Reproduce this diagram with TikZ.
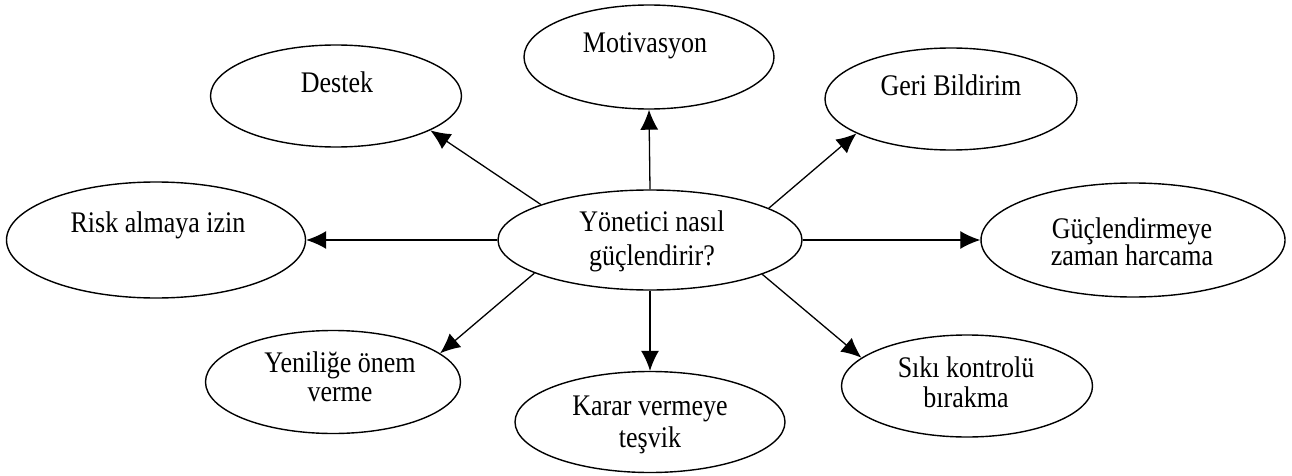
\documentclass[tikz,border=0pt]{standalone}
\usepackage{fontspec}
\usepackage{graphicx}
\setmainfont{Liberation Serif}
\usetikzlibrary{shapes.geometric,arrows.meta}
\newcommand\tallt[1]{\scalebox{1}[1.15]{#1}}
\tikzset{
  ell/.style={draw=black, line width=1.4pt, ellipse, inner sep=0pt, fill=white},
  txt/.style={anchor=base, inner sep=0pt, font=\fontsize{26}{33}\selectfont},
  arr/.style={line width=1.3pt, -{Latex[length=20pt,width=18pt]}},
}
\begin{document}
\begin{tikzpicture}[x=1pt,y=-1pt]
\useasboundingbox (0,0) rectangle (1292,476);
% ellipses
\node[ell, minimum width=304pt, minimum height=100pt] (c)   at (650,240) {};
\node[ell, minimum width=250pt, minimum height=104pt] (mot) at (649,57) {};
\node[ell, minimum width=251pt, minimum height=102pt] (des) at (336,96) {};
\node[ell, minimum width=252pt, minimum height=102pt] (ger) at (951,99) {};
\node[ell, minimum width=299pt, minimum height=116pt] (rsk) at (156,240) {};
\node[ell, minimum width=304pt, minimum height=114pt] (guc) at (1133,240) {};
\node[ell, minimum width=255pt, minimum height=103pt] (yen) at (333,382) {};
\node[ell, minimum width=270pt, minimum height=101pt] (kar) at (650,422) {};
\node[ell, minimum width=251pt, minimum height=102pt] (sik) at (967,386) {};
% texts
\node[txt] (mot-t)  at (645,53)  {\tallt{Motivasyon}};
\node[txt] (des-t)  at (337,93)  {\tallt{Destek}};
\node[txt] (ger-t)  at (951,96)  {\tallt{Geri Bildirim}};
\node[txt] (rsk-t)  at (158,232) {\tallt{Risk almaya izin}};
\node[txt] (c-t1)   at (652,231) {\tallt{Yönetici nasıl}};
\node[txt] (c-t2)   at (652,265) {\tallt{güçlendirir?}};
\node[txt] (guc-t1) at (1132,238) {\tallt{Güçlendirmeye}};
\node[txt] (guc-t2) at (1132,265) {\tallt{zaman harcama}};
\node[txt] (yen-t1) at (340,372) {\tallt{Yeniliğe önem}};
\node[txt] (yen-t2) at (340,401) {\tallt{verme}};
\node[txt] (kar-t1) at (650,415) {\tallt{Karar vermeye}};
\node[txt] (kar-t2) at (650,447) {\tallt{teşvik}};
\node[txt] (sik-t1) at (966,377) {\tallt{Sıkı kontrolü}};
\node[txt] (sik-t2) at (966,407) {\tallt{bırakma}};
% connectors
\draw[arr] (c.north) -- (mot.south);
\draw[arr] (c.162) -- (des.-20);
\draw[arr] (c.15) -- (ger.200);
\draw[arr] (c.west) -- (rsk.east);
\draw[arr] (c.east) -- (guc.west);
\draw[arr] (c.-164) -- (yen.15);
\draw[arr] (c.south) -- (kar.north);
\draw[arr] (c.-17) -- (sik.165);
\end{tikzpicture}
\end{document}
